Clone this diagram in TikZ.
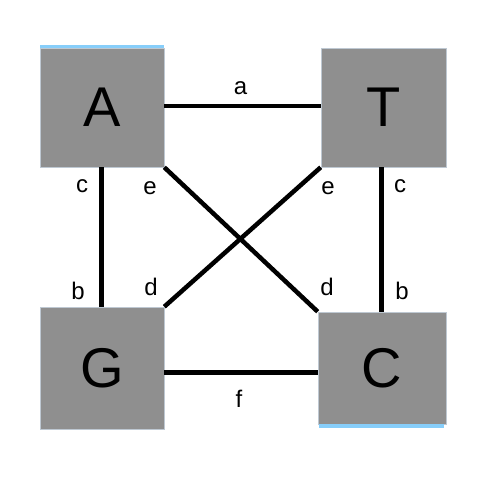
\documentclass[tikz,border=0pt]{standalone}
\usepackage{fontspec}
\setmainfont{Liberation Sans}
\definecolor{boxgray}{RGB}{143,143,143}
\definecolor{stripeblue}{RGB}{135,206,250}
\definecolor{edgegray}{RGB}{190,200,210}
\begin{document}
\begin{tikzpicture}[x=1pt,y=-1pt,
  basebox/.style={rectangle,fill=boxgray,draw=edgegray,line width=0.6pt,inner sep=0pt,
    font=\fontsize{56}{60}\selectfont},
  link/.style={line width=4.5pt,black},
  lbl/.style={inner sep=0pt,font=\fontsize{24}{28}\selectfont},
  stripe/.style={fill=stripeblue}]
\useasboundingbox (0,0) rectangle (484,482);
\fill[white] (0,0) rectangle (484,482);
\node[basebox,minimum width=124pt,minimum height=119pt] (A) at (102,107.5) {A};
\node[basebox,minimum width=125pt,minimum height=119pt] (T) at (383.5,107.5) {T};
\node[basebox,minimum width=124pt,minimum height=122pt] (G) at (102,368) {G};
\node[basebox,minimum width=128pt,minimum height=112pt] (C) at (382,368) {C};
\fill[stripe] (A.north west) rectangle ([yshift=2.5pt]A.north east);
\fill[stripe] ([xshift=1pt]C.south west) rectangle ([xshift=-2pt,yshift=-4pt]C.south east);
\draw[link] ([yshift=1.7pt]A.east) -- ([yshift=1.7pt]A.east -| T.west);
\draw[link] ([yshift=-4.5pt]G.east) -- ([yshift=-4.5pt]G.east -| C.west);
\draw[link] ([xshift=-0.5pt]A.south) -- ([xshift=-0.5pt]A.south |- G.north);
\draw[link] ([xshift=-0.5pt]C.north) -- ([xshift=-0.5pt]C.north |- T.south);
\draw[link] (A.south east) -- (C.north west);
\draw[link] (T.south west) -- (G.north east);
\node[lbl] (la) at (240.5,87.8) {a};
\node[lbl] (lf) at (239,399) {f};
\node[lbl] (lc1) at (82,186.5) {c};
\node[lbl] (le1) at (150,188) {e};
\node[lbl] (lb1) at (78,291) {b};
\node[lbl] (ld1) at (151,287) {d};
\node[lbl] (le2) at (328,188) {e};
\node[lbl] (lc2) at (400,186) {c};
\node[lbl] (ld2) at (327,287) {d};
\node[lbl] (lb2) at (402,291) {b};
\end{tikzpicture}
\end{document}
